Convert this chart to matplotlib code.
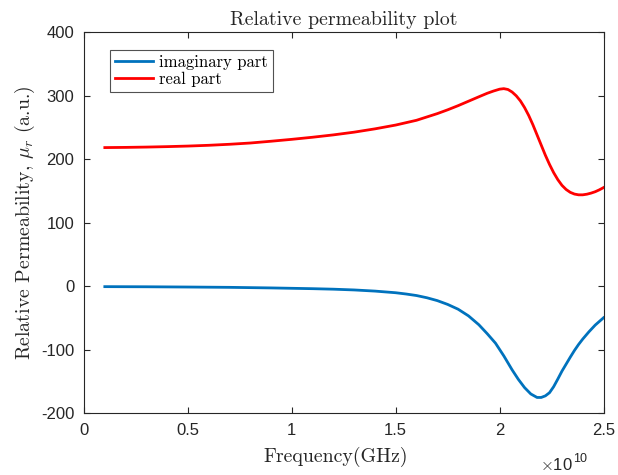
"""
Relative permeability plot (MATLAB style)
"""

import matplotlib as mpl
import matplotlib.pyplot as plt
import numpy as np
from matplotlib.ticker import FuncFormatter

mpl.rcParams["mathtext.fontset"] = "cm"
mpl.rcParams["font.family"] = "Liberation Sans"
mpl.rcParams["axes.unicode_minus"] = False

# frequency in units of 1e10 Hz
FREQ_REAL = [0.10, 0.20, 0.30, 0.40, 0.50, 0.60, 0.70, 0.80, 0.90, 1.00, 1.10, 1.20,
             1.30, 1.40, 1.50, 1.60, 1.70, 1.75, 1.80, 1.85, 1.90, 1.94, 1.97, 2.00,
             2.02, 2.04, 2.06, 2.08, 2.10, 2.12, 2.14, 2.16, 2.18, 2.20, 2.22, 2.24,
             2.26, 2.28, 2.30, 2.32, 2.34, 2.36, 2.38, 2.40, 2.42, 2.44, 2.46, 2.48, 2.50]
REAL_PART = [218, 218.3, 218.8, 219.5, 220.4, 221.6, 223.2, 225.2, 228, 231, 234.3, 238,
             242.3, 247.5, 253.5, 261, 271.5, 277.5, 284, 291, 298, 303.5, 307, 310,
             310.8, 309.5, 305.5, 299.5, 291.5, 281, 268.5, 254, 238, 222, 206, 191.5,
             178.5, 167.5, 158.5, 152, 147.5, 144.8, 143.6, 143.6, 144.6, 146.3, 148.5, 151.5, 155]

FREQ_IMAG = [0.10, 0.30, 0.50, 0.70, 0.90, 1.10, 1.20, 1.30, 1.40, 1.50, 1.55, 1.60,
             1.65, 1.70, 1.75, 1.80, 1.85, 1.90, 1.94, 1.98, 2.02, 2.06, 2.09, 2.12,
             2.15, 2.18, 2.20, 2.22, 2.24, 2.26, 2.28, 2.30, 2.32, 2.34, 2.36, 2.38,
             2.40, 2.43, 2.46, 2.50]
IMAG_PART = [-1, -1.2, -1.6, -2.1, -3, -4.2, -5, -6.2, -8, -10.6, -12.6, -15,
             -18.5, -23, -29, -36.5, -47, -61, -75, -90, -110, -132, -147, -160,
             -170, -175.5, -175.5, -173, -168, -158.5, -146.5, -134, -123, -112, -101.5, -92,
             -83.5, -72, -61.5, -50]

X_TICKS = [0, 0.5, 1, 1.5, 2, 2.5]
Y_TICKS = [-200, -100, 0, 100, 200, 300, 400]

AX_COLOR = "#262626"
SERIF = "cmr10"

fig = plt.figure(figsize=(6.18, 4.75), dpi=100)
ax = fig.add_axes([0.136, 0.1305, 0.8406, 0.8021])

ax.plot(np.array(FREQ_IMAG) * 1e10, IMAG_PART, color="#0072BD", lw=2, label="imaginary part")
ax.plot(np.array(FREQ_REAL) * 1e10, REAL_PART, color="#FF0000", lw=2, label="real part")

ax.set_xlim(0, 2.5e10)
ax.set_ylim(-200, 400)
ax.set_xticks(np.array(X_TICKS) * 1e10)
ax.set_yticks(Y_TICKS)
ax.xaxis.set_major_formatter(FuncFormatter(lambda v, p: f"{v / 1e10:g}"))

for s in ax.spines.values():
    s.set_color(AX_COLOR)
    s.set_linewidth(0.8)
ax.tick_params(direction="in", length=4, width=0.8, colors=AX_COLOR,
               labelsize=12, top=True, right=True, pad=7)

ax.set_title("Relative permeability plot", fontfamily=SERIF, fontsize=14.3,
             color=AX_COLOR, pad=5)
ax.set_xlabel("Frequency(GHz)", fontfamily=SERIF, fontsize=14.3, color=AX_COLOR)
ax.xaxis.set_label_coords(0.485, -0.088)
ax.set_ylabel(r"Relative Permeability, $\mu_r$ (a.u.)", fontfamily=SERIF, fontsize=14.3,
              color=AX_COLOR, labelpad=3)

leg = ax.legend(loc="upper left", bbox_to_anchor=(0.05, 0.953), frameon=True,
                fancybox=False, prop={"family": SERIF, "size": 12},
                handlelength=2.3, handletextpad=0.35, borderpad=0.3, labelspacing=0.1,
                borderaxespad=0)
leg.get_frame().set_edgecolor(AX_COLOR)
leg.get_frame().set_linewidth(0.8)

t = fig.text(540 / 618, 1 - 465 / 475, r"$\times$10", fontsize=12, color=AX_COLOR,
             va="center", ha="left")
ax.annotate("10", xy=(1, 0.5), xycoords=t, fontsize=9, color=AX_COLOR,
            va="bottom", ha="left")

plt.savefig("out.png", dpi=100)
